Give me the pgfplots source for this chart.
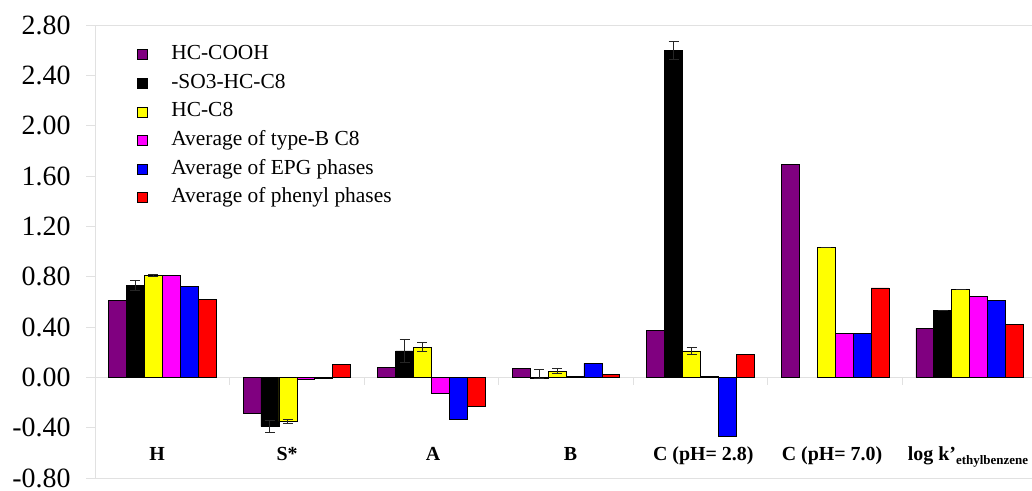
\documentclass[border=0pt]{standalone}
\usepackage{pgfplots}
\pgfplotsset{compat=1.18}
\usepackage{fontspec}
\setmainfont{Liberation Serif}
\definecolor{cPurple}{RGB}{128,0,128}
\definecolor{cYellow}{RGB}{255,255,0}
\definecolor{cMagenta}{RGB}{255,0,255}
\definecolor{cBlue}{RGB}{0,0,255}
\definecolor{cRed}{RGB}{255,0,0}
\definecolor{faint}{RGB}{225,225,225}
\begin{document}
\begin{tikzpicture}
\begin{axis}[
  name=ax,
  scale only axis,
  width=942bp, height=453bp,
  xmin=0, xmax=7,
  ymin=-0.8, ymax=2.8,
  clip=false,
  xtick=\empty,
  ytick={-0.8,-0.4,0,0.4,0.8,1.2,1.6,2.0,2.4,2.8},
  yticklabel style={font=\fontsize{28}{30}\selectfont, xshift=-12bp, /pgf/number format/fixed, /pgf/number format/fixed zerofill, /pgf/number format/precision=2, /pgf/number format/assume math mode=true},
  tick pos=left,
  tick align=outside,
  major tick length=9bp,
  ytick style={draw=faint, line width=0.8bp},
  axis line style={draw=faint, line width=0.8bp},
  ybar,
  bar width=0.13333,
  every axis plot/.append style={draw=black, line width=0.7bp},
  error bars/error bar style={draw=black!85, line width=0.9bp},
  error bars/error mark options={rotate=90, mark size=5bp, draw=black!85, line width=0.9bp},
  legend style={
    at={(axis description cs:0.044,0.957)}, anchor=north west,
    draw=none, fill=none, inner sep=0pt,
    font=\fontsize{21.5}{23}\selectfont,
    nodes={inner sep=0pt, text height=15bp, text depth=5bp},
    row sep=8.6bp,
    cells={anchor=west},
    /tikz/every odd column/.append style={column sep=24bp},
  },
  legend image code/.code={\draw[#1, draw=black, line width=0.7bp] (0bp,-5bp) rectangle (10bp,5bp);},
]
\draw[faint, line width=0.8bp] (axis cs:0,0) -- (axis cs:7,0);
\pgfplotsinvokeforeach{1,2,3,4,5,6}{\draw[faint, line width=0.8bp] (axis cs:#1,0) -- ([yshift=-8bp]axis cs:#1,0);}

\addplot[fill=cPurple, bar shift=-0.33333] coordinates {
 (0.5,0.61) (1.5,-0.29) (2.5,0.08) (3.5,0.07) (4.5,0.37) (5.5,1.69) (6.5,0.39)};
\addlegendentry{HC-COOH}

\addplot[fill=black, bar shift=-0.2, error bars/.cd, y dir=both, y explicit] coordinates {
 (0.5,0.73) += (0,0.04) -= (0,0.04)
 (1.5,-0.39) += (0,0.05) -= (0,0.05)
 (2.5,0.21) += (0,0.09) -= (0,0.09)
 (3.5,-0.01) += (0,0.07) -= (0,0.0)
 (4.5,2.60) += (0,0.07) -= (0,0.07)
 (6.5,0.53) += (0,0) -= (0,0)};
\addlegendentry{-SO3-HC-C8}

\addplot[fill=cYellow, bar shift=-0.066667, error bars/.cd, y dir=both, y explicit] coordinates {
 (0.5,0.81) += (0,0.01) -= (0,0.01)
 (1.5,-0.35) += (0,0.015) -= (0,0.015)
 (2.5,0.24) += (0,0.035) -= (0,0.035)
 (3.5,0.05) += (0,0.02) -= (0,0.02)
 (4.5,0.21) += (0,0.03) -= (0,0.03)
 (5.5,1.03) += (0,0) -= (0,0)
 (6.5,0.70) += (0,0) -= (0,0)};
\addlegendentry{HC-C8}

\addplot[fill=cMagenta, bar shift=0.066667] coordinates {
 (0.5,0.81) (1.5,-0.02) (2.5,-0.13) (3.5,0.01) (4.5,0.01) (5.5,0.35) (6.5,0.64)};
\addlegendentry{Average of type-B C8}

\addplot[fill=cBlue, bar shift=0.2] coordinates {
 (0.5,0.72) (1.5,-0.005) (2.5,-0.33) (3.5,0.11) (4.5,-0.47) (5.5,0.35) (6.5,0.61)};
\addlegendentry{Average of EPG phases}

\addplot[fill=cRed, bar shift=0.33333] coordinates {
 (0.5,0.62) (1.5,0.10) (2.5,-0.23) (3.5,0.02) (4.5,0.18) (5.5,0.71) (6.5,0.42)};
\addlegendentry{Average of phenyl phases}

\begin{scope}[every node/.style={font=\bfseries\fontsize{20}{22}\selectfont, anchor=base}]
\node at (axis cs:0.461,-0.66) {H};
\node at (axis cs:1.427,-0.66) {S*};
\node at (axis cs:2.512,-0.66) {A};
\node at (axis cs:3.533,-0.66) {B};
\node at (axis cs:4.52,-0.66) {C (pH= 2.8)};
\node at (axis cs:5.477,-0.66) {C (pH= 7.0)};
\node at (axis cs:6.487,-0.66) {log k’\raisebox{-4bp}{\fontsize{13}{14}\selectfont ethylbenzene}};
\end{scope}
\end{axis}
\pgfresetboundingbox
\path[use as bounding box] ([xshift=-95bp,yshift=-13bp]ax.south west) rectangle ++(1032bp,491bp);
\end{tikzpicture}
\end{document}
